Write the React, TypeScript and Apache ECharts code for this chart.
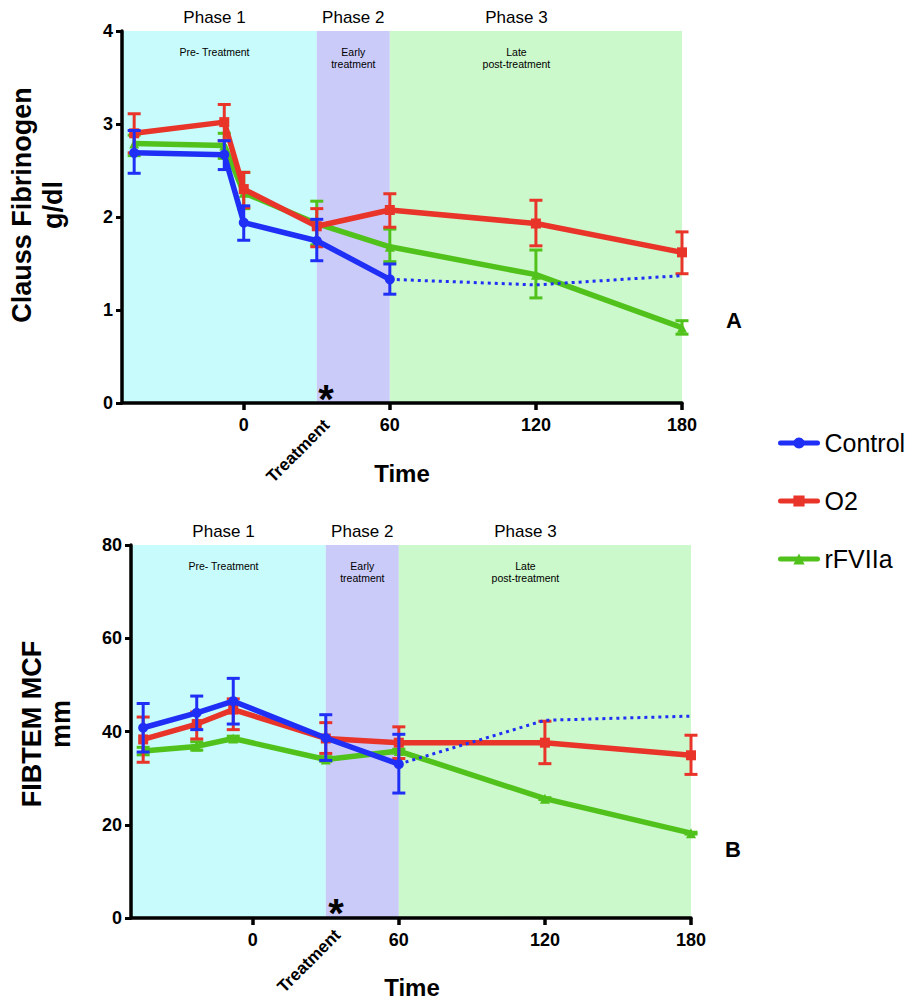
import React, { useEffect, useRef } from "react";
import * as echarts from "echarts";

// ---------- data ----------
const phaseStart = [-50, 30, 60];
const phaseEnd = [30, 60, 180];
const phaseLabelX = [-12, 45, 112];
const phaseTitles = ["Phase 1", "Phase 2", "Phase 3"];
const phaseSubtitles = ["Pre- Treatment", "Early\ntreatment", "Late\npost-treatment"];

const xTickValues = [0, 60, 120, 180];
const seriesNames = ["Control", "O2", "rFVIIa"];

// Panel A: Clauss Fibrinogen (g/dl)
const timesA = [-45, -8, 0, 30, 60, 120, 180];
const controlA = [2.69, 2.67, 1.94, 1.745, 1.33];
const controlALow = [2.47, 2.51, 1.75, 1.53, 1.17];
const controlAHigh = [2.93, 2.82, 2.12, 1.975, 1.495];
const controlALateTimes = [60, 120, 180];
const controlALate = [1.33, 1.27, 1.37];
const o2A = [2.9, 3.02, 2.3, 1.9, 2.075, 1.93, 1.62];
const o2ALow = [2.69, 2.82, 2.1, 1.68, 1.89, 1.69, 1.39];
const o2AHigh = [3.11, 3.21, 2.48, 2.09, 2.25, 2.18, 1.84];
const rA = [2.79, 2.77, 2.26, 1.93, 1.68, 1.38, 0.81];
const rALow = [2.66, 2.63, 2.09, 1.7, 1.52, 1.13, 0.74];
const rAHigh = [2.88, 2.9, 2.48, 2.17, 1.87, 1.645, 0.885];

// Panel B: FIBTEM MCF (mm)
const timesB = [-45, -23, -8, 30, 60, 120, 180];
const controlB = [40.8, 44.0, 46.5, 38.6, 33.0];
const controlBLow = [35.6, 40.4, 41.6, 33.8, 26.8];
const controlBHigh = [46.0, 47.6, 51.4, 43.6, 39.4];
const controlBLateTimes = [60, 120, 180];
const controlBLate = [33.0, 42.4, 43.3];
const o2B = [38.3, 41.6, 44.7, 38.5, 37.6, 37.6, 34.9];
const o2BLow = [33.4, 38.4, 40.4, 35.3, 34.2, 33.1, 30.8];
const o2BHigh = [43.1, 44.2, 47.0, 41.9, 41.0, 42.2, 39.2];
const rB = [35.8, 36.8, 38.5, 34.0, 35.8, 25.6, 18.2];
const rBLow = [35.0, 36.0, 38.0, 33.6, 35.4, 25.4, 18.0];
const rBHigh = [36.6, 37.8, 39.0, 34.6, 36.2, 25.8, 18.4];

// ---------- styles ----------
const FONT = "Liberation Sans, Arial, Helvetica, sans-serif";
const BLUE = "#1f2ff5";
const RED = "#e9342a";
const GREEN = "#51c21b";
const phaseColors = ["#c8fbfb", "#cbcbfa", "#cbf9cb"];

function pairs(xs: number[], ys: number[]) {
  return ys.map((y, i) => [xs[i], y]);
}

function errorSeries(name: string, xs: number[], lo: number[], hi: number[], color: string, idx: number, z: number) {
  return {
    type: "custom",
    name,
    xAxisIndex: idx,
    yAxisIndex: idx,
    z,
    silent: true,
    data: lo.map((l, i) => [xs[i], l, hi[i]]),
    encode: { x: 0, y: [1, 2] },
    renderItem: (params: any, api: any) => {
      const x = api.value(0);
      const p1 = api.coord([x, api.value(1)]);
      const p2 = api.coord([x, api.value(2)]);
      const w = 6.5;
      const style = { stroke: color, lineWidth: 3, fill: null };
      return {
        type: "group",
        children: [
          { type: "line", shape: { x1: p1[0], y1: p1[1], x2: p2[0], y2: p2[1] }, style },
          { type: "line", shape: { x1: p1[0] - w, y1: p1[1], x2: p1[0] + w, y2: p1[1] }, style },
          { type: "line", shape: { x1: p2[0] - w, y1: p2[1], x2: p2[0] + w, y2: p2[1] }, style },
        ],
      };
    },
  };
}

function phaseSeries(idx: number) {
  return {
    type: "custom",
    name: "phases" + idx,
    xAxisIndex: idx,
    yAxisIndex: idx,
    clip: false,
    silent: true,
    z: 0,
    data: phaseStart.map((s, i) => [s, phaseEnd[i], phaseLabelX[i], i]),
    encode: { x: [0, 1] },
    renderItem: (params: any, api: any) => {
      const cs = params.coordSys;
      const s = api.coord([api.value(0), 0])[0];
      const e = api.coord([api.value(1), 0])[0];
      const tx = api.coord([api.value(2), 0])[0];
      const i = api.value(3);
      return {
        type: "group",
        children: [
          { type: "rect", shape: { x: s, y: cs.y, width: e - s, height: cs.height }, style: { fill: phaseColors[i] } },
          {
            type: "text",
            x: tx,
            y: cs.y - 14,
            style: { text: phaseTitles[i], fill: "#000", fontSize: 17, fontFamily: FONT, align: "center", verticalAlign: "middle" },
          },
          {
            type: "text",
            x: tx,
            y: cs.y + 15,
            style: { text: phaseSubtitles[i], fill: "#000", fontSize: 10.5, lineHeight: 12, fontFamily: FONT, align: "center", verticalAlign: "top" },
          },
        ],
      };
    },
  };
}

function lineSeries(name: string, data: number[][], color: string, symbol: string, idx: number, z: number) {
  return {
    type: "line",
    name,
    xAxisIndex: idx,
    yAxisIndex: idx,
    z,
    data,
    symbol,
    symbolSize: 10,
    lineStyle: { width: 5.5, color },
    itemStyle: { color },
    showSymbol: true,
  };
}

function dottedSeries(data: number[][], idx: number) {
  return {
    type: "line",
    name: "Control (continued)" + idx,
    xAxisIndex: idx,
    yAxisIndex: idx,
    z: 6,
    data,
    symbol: "none",
    lineStyle: { width: 3, color: BLUE, type: [3, 4] },
  };
}

function xAxis(idx: number) {
  return {
    type: "value",
    gridIndex: idx,
    min: -50,
    max: 180,
    z: 10,
    splitLine: { show: false },
    axisLine: { show: true, onZero: false, lineStyle: { color: "#000", width: 3.5 } },
    axisTick: { show: true, customValues: xTickValues, length: 7, lineStyle: { color: "#000", width: 3.5 } },
    axisLabel: { customValues: xTickValues, margin: 13, color: "#000", fontSize: 18, fontWeight: "bold", fontFamily: FONT },
  };
}

function yAxis(idx: number, max: number, interval: number) {
  return {
    type: "value",
    gridIndex: idx,
    min: 0,
    max,
    interval,
    z: 10,
    splitLine: { show: false },
    axisLine: { show: true, onZero: false, lineStyle: { color: "#000", width: 3.5 } },
    axisTick: { show: true, length: 6, lineStyle: { color: "#000", width: 3 } },
    axisLabel: { margin: 9, color: "#000", fontSize: 18, fontWeight: "bold", fontFamily: FONT },
  };
}

function txt(text: string, x: number, y: number, fontSize: number, bold: boolean, rotation = 0) {
  return {
    type: "text",
    x,
    y,
    z: 100,
    rotation,
    silent: true,
    style: {
      text,
      fill: "#000",
      fontSize,
      fontWeight: bold ? "bold" : "normal",
      fontFamily: FONT,
      align: "center",
      verticalAlign: "middle",
    },
  };
}

export default function App() {
  const ref = useRef<HTMLDivElement>(null);
  useEffect(() => {
    document.body.style.margin = "0";
    if (!ref.current) return;
    const chart = echarts.init(ref.current, null, { renderer: "svg" });
    const option: any = {
      animation: false,
      backgroundColor: "#fff",
      grid: [
        { left: 122, top: 31, width: 560, height: 372, outerBoundsMode: "none" },
        { left: 131, top: 545, width: 560, height: 373, outerBoundsMode: "none" },
      ],
      xAxis: [xAxis(0), xAxis(1)],
      yAxis: [yAxis(0, 4, 1), yAxis(1, 80, 20)],
      legend: {
        data: seriesNames,
        orient: "vertical",
        left: 773,
        top: 423,
        itemWidth: 37,
        itemHeight: 14,
        itemGap: 28,
        lineStyle: { width: 5, cap: "round" },
        textStyle: { fontSize: 25, lineHeight: 30, color: "#000", fontFamily: FONT, padding: [0, 0, 0, 2] },
      },
      series: [
        phaseSeries(0),
        errorSeries("rFVIIa SEM A", timesA, rALow, rAHigh, GREEN, 0, 3),
        lineSeries("rFVIIa", pairs(timesA, rA), GREEN, "triangle", 0, 3),
        errorSeries("O2 SEM A", timesA, o2ALow, o2AHigh, RED, 0, 4),
        lineSeries("O2", pairs(timesA, o2A), RED, "rect", 0, 4),
        dottedSeries(pairs(controlALateTimes, controlALate), 0),
        errorSeries("Control SEM A", timesA, controlALow, controlAHigh, BLUE, 0, 5),
        lineSeries("Control", pairs(timesA, controlA), BLUE, "circle", 0, 5),

        phaseSeries(1),
        errorSeries("rFVIIa SEM B", timesB, rBLow, rBHigh, GREEN, 1, 3),
        lineSeries("rFVIIa", pairs(timesB, rB), GREEN, "triangle", 1, 3),
        errorSeries("O2 SEM B", timesB, o2BLow, o2BHigh, RED, 1, 4),
        lineSeries("O2", pairs(timesB, o2B), RED, "rect", 1, 4),
        dottedSeries(pairs(controlBLateTimes, controlBLate), 1),
        errorSeries("Control SEM B", timesB, controlBLow, controlBHigh, BLUE, 1, 5),
        lineSeries("Control", pairs(timesB, controlB), BLUE, "circle", 1, 5),
      ],
      graphic: [
        txt("Clauss Fibrinogen", 22, 205, 27, true, Math.PI / 2),
        txt("g/dl", 53, 205, 27, true, Math.PI / 2),
        txt("FIBTEM MCF", 32, 724, 27, true, Math.PI / 2),
        txt("mm", 61, 724, 27, true, Math.PI / 2),
        txt("Time", 402, 473, 24, true),
        txt("Time", 412, 987, 24, true),
        txt("Treatment", 298, 451, 17, true, Math.PI / 4),
        txt("Treatment", 309, 961, 17, true, Math.PI / 4),
        txt("*", 326, 399, 40, true),
        txt("*", 336, 913, 40, true),
        txt("A", 734, 320, 22, true),
        txt("B", 733, 849, 22, true),
      ],
    };
    chart.setOption(option);
    return () => chart.dispose();
  }, []);
  return <div ref={ref} style={{ width: 912, height: 1000 }} />;
}
